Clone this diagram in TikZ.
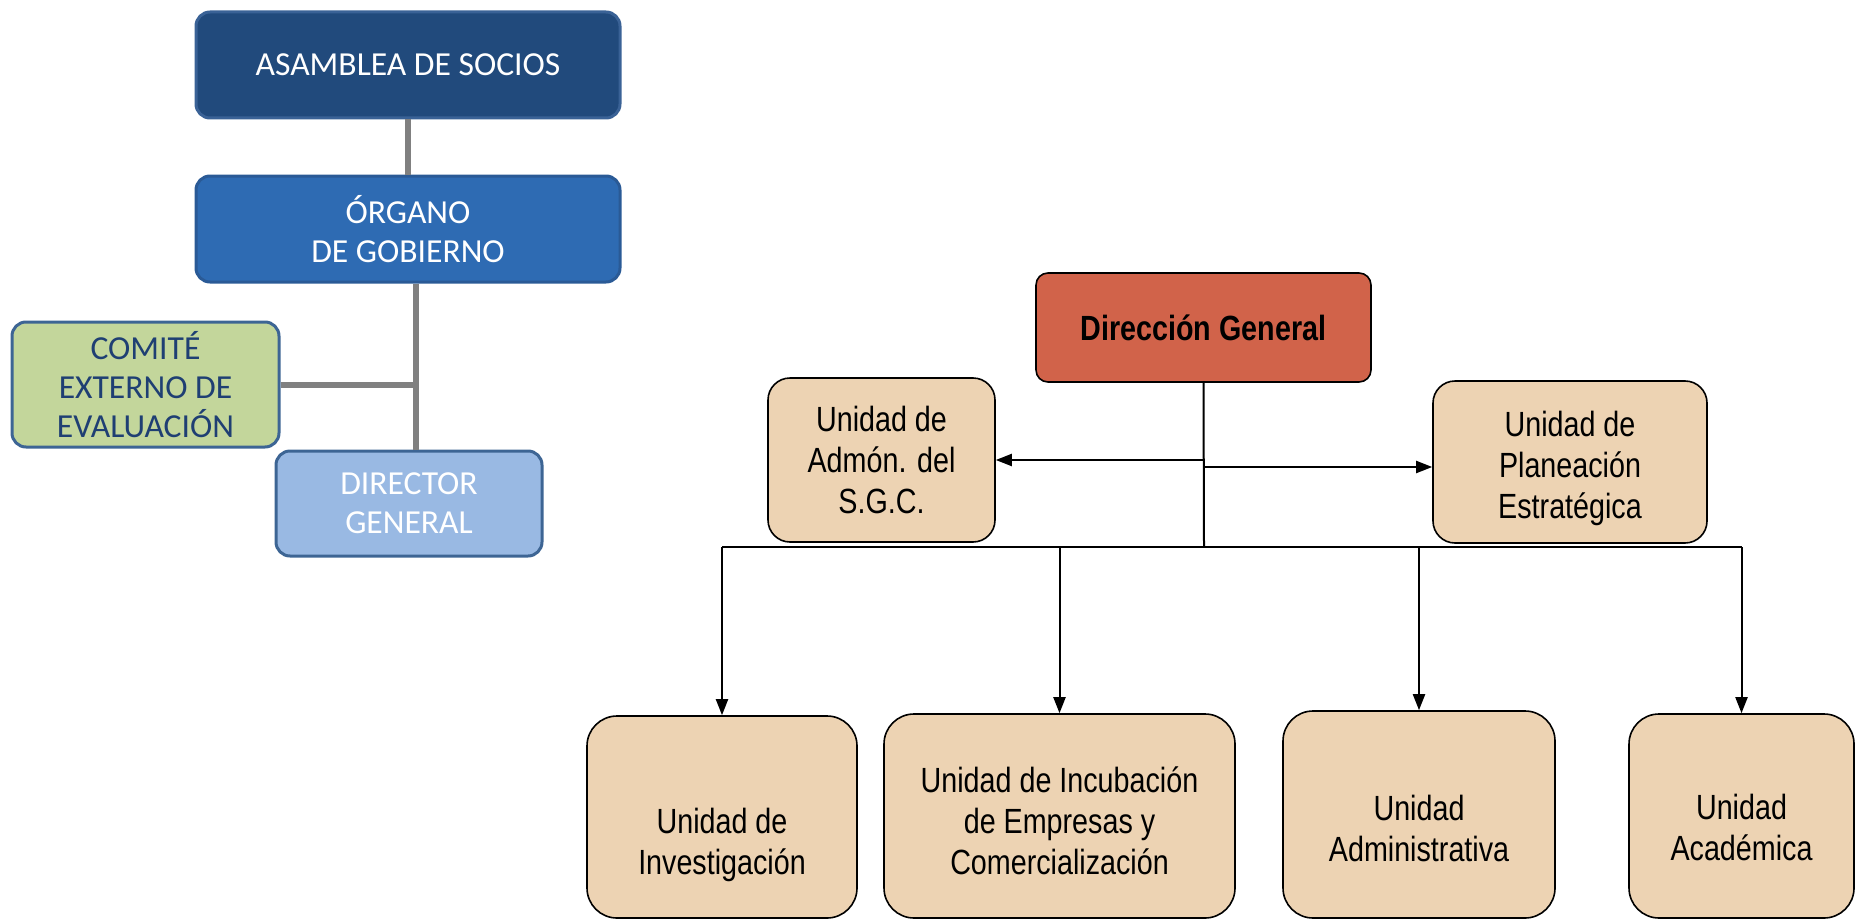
\documentclass[tikz,border=0pt]{standalone}
\usepackage{fontspec}
\setmainfont{Carlito}
\newfontfamily\narrowfont{Liberation Sans}[FakeStretch=0.82]
\usetikzlibrary{arrows.meta,positioning}

\definecolor{assembly}{HTML}{214A7C}
\definecolor{assemblyline}{HTML}{3A6296}
\definecolor{board}{HTML}{2E6BB3}
\definecolor{boardline}{HTML}{2A5A96}
\definecolor{committee}{HTML}{C3D69B}
\definecolor{committeetext}{HTML}{1F3F73}
\definecolor{director}{HTML}{99B9E3}
\definecolor{frameblue}{HTML}{3D6594}
\definecolor{linkgray}{HTML}{808080}
\definecolor{headred}{HTML}{D1634A}
\definecolor{unitfill}{HTML}{EDD3B3}

\tikzset{
  govbox/.style={line width=1.5pt, rounded corners=7pt, align=center, inner sep=0pt,
    font=\fontsize{16.8}{19.5}\selectfont},
  unitbox/.style={draw=black, line width=0.8pt, fill=unitfill, rounded corners=12pt,
    align=center, inner sep=0pt, font=\narrowfont\fontsize{17.5}{20.5}\selectfont},
  drop/.style={execute at begin node={\rule{0pt}{#1}}},
  link/.style={draw=linkgray, line width=3pt},
  feed/.style={draw=black, line width=1pt, -{Triangle[length=8pt,width=6pt]}},
}

\begin{document}
\begin{tikzpicture}[x=0.5pt,y=-0.5pt]
\useasboundingbox (0,0) rectangle (1856,920);

% governing bodies
\node[govbox, draw=assemblyline, fill=assembly, text=white, minimum width=212pt, minimum height=53pt]
  (asamblea) at (408,65) {ASAMBLEA DE SOCIOS};
\node[govbox, draw=boardline, fill=board, text=white, minimum width=212pt, minimum height=53pt]
  (organo) at (408,229) {ÓRGANO\\DE GOBIERNO};
\node[govbox, draw=frameblue, fill=committee, text=committeetext, minimum width=133.5pt, minimum height=62.5pt]
  (comite) at (145.5,384.5) {COMITÉ\\EXTERNO DE\\EVALUACIÓN};
\node[govbox, draw=frameblue, fill=director, text=white, minimum width=133pt, minimum height=52.5pt]
  (director) at (409,503.5) {DIRECTOR\\GENERAL};

\coordinate (trunk) at ([xshift=4pt]organo.south);
\draw[link] (asamblea) -- (organo);
\draw[link] (trunk) -- (trunk |- director.north);
\draw[link] (comite.east) -- (comite.east -| trunk);

% units
\node[unitbox, fill=headred, rounded corners=6pt, minimum width=167.5pt, minimum height=54.5pt,
  font=\narrowfont\bfseries\fontsize{17.5}{20.5}\selectfont]
  (dg) at (1203.5,327.5) {Dirección General};
\node[unitbox, rounded corners=11pt, minimum width=113.5pt, minimum height=82pt]
  (admon) at (881.5,460) {Unidad de\\Admón. del\\S.G.C.};
\node[unitbox, drop=60.4pt, rounded corners=11pt, minimum width=137pt, minimum height=81pt]
  (planea) at (1570,462) {Unidad de\\Planeación\\Estratégica};

\node[unitbox, drop=61pt, rounded corners=15pt, minimum width=135pt, minimum height=101pt]
  (invest) at (722,817) {Unidad de\\Investigación};
\node[unitbox, drop=58.6pt, rounded corners=15pt, minimum width=175.5pt, minimum height=102pt]
  (incub) at (1059.5,816) {Unidad de Incubación\\de Empresas y\\Comercialización};
\node[unitbox, drop=47pt, rounded corners=15pt, minimum width=136pt, minimum height=103.5pt]
  (admin) at (1419,814.5) {Unidad\\Administrativa};
\node[unitbox, drop=45pt, rounded corners=15pt, minimum width=112.5pt, minimum height=102pt]
  (acad) at (1741.5,816) {Unidad\\Académica};

\coordinate (bus) at (1204,547);
\coordinate (tap) at ([yshift=-2.5pt]planea.west);
\draw[line width=1pt] (dg.south) -- (bus);
\draw[feed] (dg.south |- admon.east) -- (admon.east);
\draw[feed] (dg.south |- tap) -- (tap);
\draw[line width=1pt] (bus -| invest.north) -- (bus -| acad.north);
\draw[feed] (bus -| invest.north) -- (invest.north);
\draw[feed] (bus -| incub.north) -- (incub.north);
\draw[feed] (bus -| admin.north) -- (admin.north);
\draw[feed] (bus -| acad.north) -- (acad.north);
\end{tikzpicture}
\end{document}
